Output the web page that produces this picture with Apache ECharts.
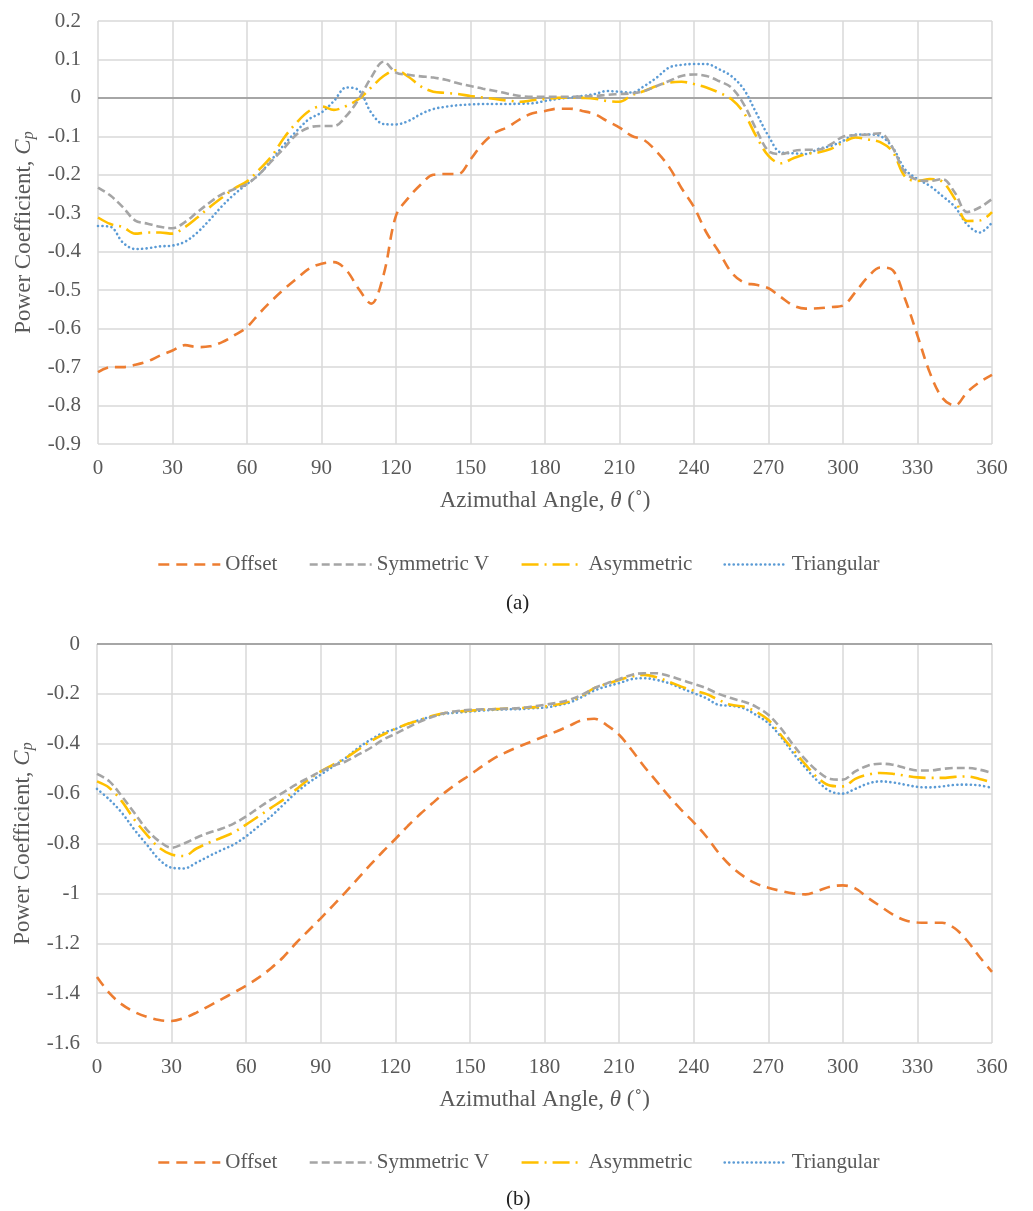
<!DOCTYPE html>
<html>
<head>
<meta charset="utf-8">
<script src="https://cdn.jsdelivr.net/npm/echarts@6/dist/echarts.min.js"></script>
<style>
html,body{margin:0;padding:0;background:#fff;}
#c{width:1033px;height:1211px;}
</style>
</head>
<body>
<div id="c"></div>
<script>
// ---------- data ----------
const anglesA = [0,5,10,15,20,25,30,35,40,45,50,55,60,65,70,75,80,85,90,95,100,105,110,115,120,125,130,135,140,145,150,155,160,165,170,175,180,185,190,195,200,205,210,215,220,225,230,235,240,245,250,255,260,265,270,275,280,285,290,295,300,305,310,315,320,325,330,335,340,345,350,355,360];
const offsetA = [-0.713,-0.700,-0.700,-0.694,-0.685,-0.670,-0.657,-0.643,-0.648,-0.646,-0.635,-0.617,-0.596,-0.560,-0.527,-0.497,-0.470,-0.444,-0.431,-0.427,-0.448,-0.497,-0.535,-0.460,-0.306,-0.260,-0.225,-0.200,-0.198,-0.198,-0.160,-0.118,-0.090,-0.076,-0.055,-0.040,-0.034,-0.028,-0.028,-0.034,-0.042,-0.060,-0.077,-0.099,-0.110,-0.140,-0.180,-0.235,-0.284,-0.350,-0.400,-0.453,-0.480,-0.486,-0.495,-0.518,-0.540,-0.548,-0.547,-0.544,-0.540,-0.505,-0.466,-0.441,-0.448,-0.523,-0.618,-0.715,-0.780,-0.800,-0.765,-0.739,-0.720];
const symVA = [-0.233,-0.254,-0.284,-0.319,-0.327,-0.335,-0.339,-0.323,-0.297,-0.272,-0.250,-0.237,-0.224,-0.198,-0.164,-0.130,-0.095,-0.077,-0.073,-0.073,-0.047,-0.003,0.053,0.094,0.066,0.060,0.056,0.053,0.047,0.038,0.031,0.024,0.018,0.011,0.005,0.003,0.003,0.003,0.003,0.004,0.005,0.008,0.010,0.012,0.018,0.031,0.044,0.057,0.061,0.057,0.044,0.027,-0.016,-0.081,-0.138,-0.146,-0.138,-0.135,-0.135,-0.121,-0.101,-0.097,-0.095,-0.092,-0.130,-0.194,-0.213,-0.216,-0.211,-0.246,-0.297,-0.285,-0.263];
const asymA = [-0.311,-0.328,-0.336,-0.353,-0.350,-0.350,-0.353,-0.336,-0.311,-0.284,-0.259,-0.235,-0.217,-0.186,-0.151,-0.103,-0.064,-0.034,-0.022,-0.031,-0.021,-0.003,0.027,0.057,0.072,0.055,0.030,0.016,0.013,0.010,0.005,0.001,-0.003,-0.007,-0.010,-0.006,-0.003,0.000,0.001,0.000,-0.002,-0.008,-0.010,0.007,0.018,0.031,0.040,0.042,0.036,0.027,0.014,-0.003,-0.038,-0.099,-0.151,-0.170,-0.157,-0.146,-0.142,-0.133,-0.116,-0.103,-0.108,-0.115,-0.140,-0.205,-0.216,-0.211,-0.218,-0.262,-0.320,-0.319,-0.297];
const triA = [-0.333,-0.335,-0.376,-0.393,-0.391,-0.386,-0.384,-0.374,-0.350,-0.317,-0.281,-0.250,-0.224,-0.198,-0.160,-0.121,-0.086,-0.055,-0.038,-0.008,0.027,0.020,-0.038,-0.068,-0.069,-0.060,-0.042,-0.029,-0.023,-0.019,-0.017,-0.016,-0.016,-0.016,-0.015,-0.014,-0.008,-0.003,0.001,0.005,0.010,0.018,0.016,0.014,0.031,0.053,0.079,0.086,0.088,0.088,0.075,0.057,0.023,-0.038,-0.099,-0.142,-0.144,-0.146,-0.133,-0.125,-0.112,-0.095,-0.095,-0.099,-0.129,-0.186,-0.211,-0.229,-0.255,-0.283,-0.329,-0.350,-0.324];

const anglesB = anglesA;
const offsetB = [-1.335,-1.400,-1.445,-1.475,-1.495,-1.508,-1.512,-1.500,-1.478,-1.452,-1.425,-1.398,-1.370,-1.338,-1.300,-1.255,-1.200,-1.150,-1.100,-1.048,-0.995,-0.940,-0.885,-0.832,-0.782,-0.730,-0.682,-0.638,-0.595,-0.558,-0.525,-0.490,-0.457,-0.432,-0.410,-0.390,-0.370,-0.350,-0.328,-0.306,-0.300,-0.325,-0.364,-0.424,-0.490,-0.550,-0.610,-0.665,-0.715,-0.771,-0.837,-0.891,-0.931,-0.960,-0.977,-0.990,-1.000,-1.004,-0.990,-0.973,-0.968,-0.980,-1.017,-1.051,-1.084,-1.108,-1.117,-1.118,-1.118,-1.140,-1.190,-1.255,-1.315];
const symVB = [-0.521,-0.551,-0.611,-0.677,-0.744,-0.791,-0.817,-0.800,-0.777,-0.757,-0.741,-0.720,-0.691,-0.657,-0.624,-0.595,-0.564,-0.537,-0.511,-0.488,-0.471,-0.444,-0.417,-0.384,-0.360,-0.335,-0.311,-0.292,-0.277,-0.269,-0.264,-0.262,-0.261,-0.259,-0.257,-0.251,-0.244,-0.236,-0.224,-0.204,-0.177,-0.158,-0.141,-0.124,-0.117,-0.117,-0.128,-0.144,-0.160,-0.177,-0.200,-0.217,-0.231,-0.251,-0.284,-0.337,-0.404,-0.464,-0.511,-0.541,-0.544,-0.511,-0.488,-0.480,-0.484,-0.497,-0.507,-0.507,-0.501,-0.497,-0.497,-0.504,-0.517];
const asymB = [-0.551,-0.577,-0.631,-0.704,-0.764,-0.817,-0.844,-0.850,-0.820,-0.797,-0.777,-0.755,-0.724,-0.691,-0.657,-0.624,-0.584,-0.544,-0.511,-0.484,-0.457,-0.424,-0.391,-0.364,-0.340,-0.320,-0.304,-0.288,-0.277,-0.271,-0.267,-0.264,-0.261,-0.259,-0.257,-0.254,-0.251,-0.243,-0.231,-0.208,-0.177,-0.160,-0.144,-0.131,-0.124,-0.133,-0.151,-0.171,-0.187,-0.200,-0.224,-0.244,-0.251,-0.271,-0.304,-0.364,-0.424,-0.484,-0.537,-0.568,-0.571,-0.541,-0.524,-0.517,-0.520,-0.528,-0.535,-0.537,-0.537,-0.533,-0.531,-0.541,-0.555];
const triB = [-0.581,-0.624,-0.677,-0.744,-0.804,-0.864,-0.897,-0.900,-0.877,-0.851,-0.827,-0.804,-0.771,-0.731,-0.691,-0.644,-0.597,-0.557,-0.524,-0.491,-0.457,-0.417,-0.384,-0.357,-0.341,-0.320,-0.304,-0.290,-0.280,-0.275,-0.271,-0.267,-0.264,-0.262,-0.261,-0.258,-0.255,-0.247,-0.235,-0.213,-0.187,-0.170,-0.157,-0.141,-0.137,-0.144,-0.157,-0.177,-0.197,-0.217,-0.244,-0.248,-0.257,-0.284,-0.317,-0.371,-0.437,-0.497,-0.551,-0.591,-0.600,-0.581,-0.560,-0.551,-0.555,-0.564,-0.573,-0.575,-0.571,-0.565,-0.564,-0.567,-0.577];

const seriesNames = ['Offset','Symmetric V','Asymmetric','Triangular'];
const xTicks = {min:0, max:360, interval:30};
const yTicksA = {min:-0.9, max:0.2, interval:0.1};
const yTicksB = {min:-1.6, max:0, interval:0.2};
const panelLabels = ['(a)','(b)'];

// ---------- styles ----------
const FONT = 'Liberation Serif';
const TXT = '#595959';
const GRIDC = '#d9d9d9';
const styles = [
  {color:'#ED7D31', type:[11,7], cap:'butt'},
  {color:'#A5A5A5', type:[8,4], cap:'butt'},
  {color:'#FFC000', type:[17,6,2,6], cap:'butt'},
  {color:'#5B9BD5', type:[0.1,4.4], cap:'round'}
];

function zip(xs, ys){ return xs.map((x,i)=>[x, ys[i]]); }

const grids = [
  {left:98, right:41, top:21, bottom:767},
  {left:97, right:41, top:644, bottom:168}
];

function xAxisDef(gi){
  return {
    type:'value', gridIndex:gi, min:xTicks.min, max:xTicks.max, interval:xTicks.interval,
    axisLine:{show:false}, axisTick:{show:false},
    axisLabel:{color:TXT, fontFamily:FONT, fontSize:21, margin:14},
    splitLine:{show:true, lineStyle:{color:GRIDC, width:1.5}},
    name:'{n|Azimuthal Angle, }{i|θ}{n| (˚)}',
    nameLocation:'middle', nameGap:45,
    nameTextStyle:{rich:{
      n:{color:TXT, fontFamily:FONT, fontSize:23},
      i:{color:TXT, fontFamily:FONT, fontSize:23, fontStyle:'italic'}
    }}
  };
}
function yAxisDef(gi, t){
  return {
    type:'value', gridIndex:gi, min:t.min, max:t.max, interval:t.interval,
    axisLine:{show:false}, axisTick:{show:false},
    axisLabel:{color:TXT, fontFamily:FONT, fontSize:21, margin:17},
    splitLine:{show:true, lineStyle:{color:GRIDC, width:1.5}},
    name:'{n|Power Coefficient, }{i|C}{s|p}',
    nameLocation:'middle', nameGap:51, nameRotate:90,
    nameTextStyle:{rich:{
      n:{color:TXT, fontFamily:FONT, fontSize:23},
      i:{color:TXT, fontFamily:FONT, fontSize:23, fontStyle:'italic'},
      s:{color:TXT, fontFamily:FONT, fontSize:16, fontStyle:'italic', padding:[10,0,0,0]}
    }}
  };
}

const dataA = [offsetA, symVA, asymA, triA];
const dataB = [offsetB, symVB, asymB, triB];

const series = [];
[dataA, dataB].forEach((set, gi)=>{
  const xs = gi===0 ? anglesA : anglesB;
  set.forEach((vals, si)=>{
    const s = styles[si];
    series.push({
      name: seriesNames[si], type:'line', xAxisIndex:gi, yAxisIndex:gi,
      data: zip(xs, vals), smooth:0.35, symbol:'none', showSymbol:false,
      lineStyle:{color:s.color, width:2.6, type:s.type, cap:s.cap},
      itemStyle:{color:s.color},
      z: 10 - si,
      markLine: si===0 ? {
        silent:true, symbol:['none','none'], label:{show:false},
        lineStyle:{color:'#a6a6a6', width:1.8, type:'solid'},
        data:[{yAxis:0}]
      } : undefined
    });
  });
});

function legendDef(top){
  return {
    show:true, left:152, top:top, itemWidth:62, itemHeight:14, itemGap:31,
    itemStyle:{opacity:0},
    lineStyle:{width:2.6},
    textStyle:{color:TXT, fontFamily:FONT, fontSize:21},
    data: seriesNames,
    selectedMode:false
  };
}

const chart = echarts.init(document.getElementById('c'), null, {renderer:'canvas'});
chart.setOption({
  backgroundColor:'#fff',
  animation:false,
  grid: grids,
  xAxis:[xAxisDef(0), xAxisDef(1)],
  yAxis:[yAxisDef(0, yTicksA), yAxisDef(1, yTicksB)],
  legend:[legendDef(549), legendDef(1147)],
  series: series,
  graphic:[
    {type:'text', left:506, top:593, style:{text:panelLabels[0], fill:'#222', font:'21px "Liberation Serif"'}},
    {type:'text', left:506, top:1189, style:{text:panelLabels[1], fill:'#222', font:'21px "Liberation Serif"'}}
  ]
});
</script>
</body>
</html>
